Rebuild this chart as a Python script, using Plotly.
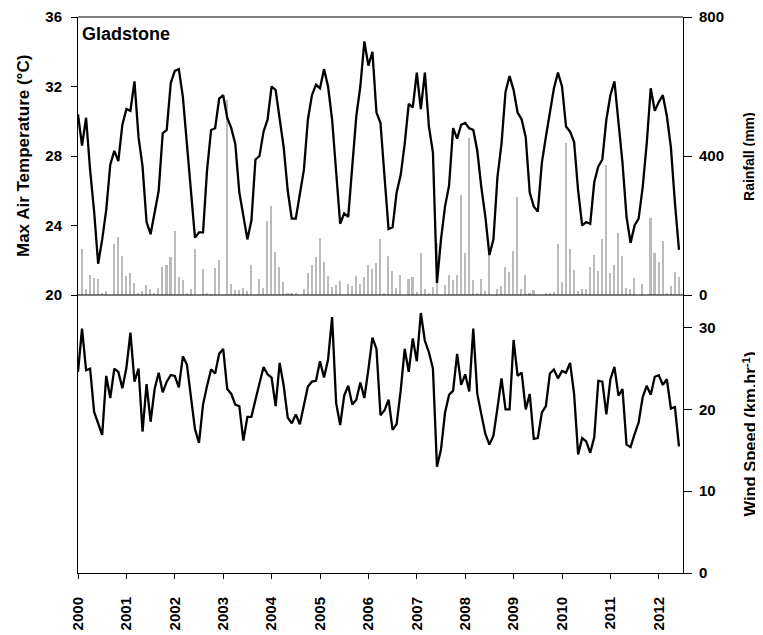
import plotly.graph_objects as go

# ---- data (monthly, Jan 2000 .. Jun 2012) ----
start_year = 2000
n_months = 150
months = [start_year + i / 12 for i in range(n_months)]

max_temp = [
    30.4, 28.6, 30.2, 27.2, 24.8, 21.8, 23.2, 24.9, 27.5, 28.3, 27.7, 29.8,
    30.7, 30.6, 32.3, 29.1, 27.4, 24.2, 23.5, 24.7, 26.0, 29.3, 29.5, 32.2,
    32.9, 33.0, 31.4, 28.7, 26.0, 23.3, 23.6, 23.6, 27.2, 29.5, 29.6, 31.3,
    31.5, 30.2, 29.6, 28.7, 25.9, 24.6, 23.2, 24.3, 27.8, 28.0, 29.4, 30.1,
    32.0, 31.8, 30.1, 28.5, 26.0, 24.4, 24.4, 25.8, 27.2, 30.1, 31.5, 32.1,
    31.9, 33.0, 32.0, 30.1, 27.0, 24.1, 24.7, 24.5, 27.4, 30.3, 32.0, 34.6,
    33.2, 34.0, 30.5, 29.9, 26.8, 23.8, 23.9, 25.9, 26.9, 28.7, 31.0, 30.8,
    32.8, 30.7, 32.8, 29.7, 28.2, 20.7, 23.2, 25.1, 26.3, 29.6, 29.0, 29.8,
    29.9, 29.6, 29.5, 28.3, 26.2, 24.5, 22.3, 23.2, 26.8, 28.7, 31.7, 32.6,
    31.8, 30.5, 30.1, 29.1, 25.9, 25.1, 24.8, 27.6, 29.1, 30.6, 31.9, 32.8,
    32.0, 29.7, 29.4, 28.8, 26.0, 24.0, 24.2, 24.1, 26.5, 27.4, 27.8, 30.1,
    31.5, 32.3, 30.1, 27.6, 24.5, 23.0, 24.0, 24.4, 26.2, 28.7, 31.9, 30.6,
    31.1, 31.5, 30.3, 28.5, 25.3, 22.6,
]

rainfall = [
    0, 132, 16, 57, 50, 45, 3, 11, 0, 146, 168, 112,
    56, 62, 35, 5, 11, 29, 16, 3, 21, 80, 86, 110,
    184, 53, 43, 7, 18, 132, 0, 75, 3, 2, 79, 102,
    0, 560, 32, 14, 14, 21, 11, 86, 0, 45, 21, 213,
    256, 123, 81, 38, 7, 5, 3, 0, 16, 62, 86, 108,
    163, 96, 55, 22, 29, 41, 0, 32, 26, 55, 32, 53,
    86, 74, 93, 160, 7, 112, 69, 19, 59, 0, 45, 51,
    9, 120, 16, 5, 22, 150, 0, 28, 59, 43, 59, 289,
    122, 452, 43, 3, 45, 11, 115, 0, 16, 26, 81, 67,
    126, 281, 16, 57, 3, 14, 0, 0, 3, 3, 10, 147,
    37, 436, 131, 72, 12, 16, 16, 80, 114, 70, 162, 374,
    62, 85, 177, 112, 21, 16, 48, 0, 31, 0, 223, 122,
    96, 156, 7, 26, 67, 53,
]

wind_speed = [
    24.6, 29.9, 24.8, 25.0, 19.7, 18.4, 16.9, 24.1, 21.4, 25.0, 24.6, 22.6,
    25.1, 29.4, 23.4, 25.0, 17.3, 23.1, 18.5, 22.5, 24.5, 22.1, 23.4, 24.2,
    24.1, 22.7, 26.5, 25.5, 21.5, 17.6, 15.9, 20.6, 22.9, 24.9, 24.4, 26.8,
    27.4, 22.5, 21.9, 20.6, 20.4, 16.2, 19.1, 19.1, 21.2, 23.4, 25.2, 24.3,
    23.9, 20.4, 25.7, 22.9, 19.0, 18.3, 19.4, 18.2, 20.4, 22.8, 23.4, 23.5,
    25.9, 23.9, 26.1, 31.3, 20.8, 18.1, 21.7, 22.9, 20.6, 21.2, 23.3, 21.4,
    24.9, 28.8, 27.4, 19.3, 19.9, 21.2, 17.5, 18.2, 22.3, 27.4, 24.6, 28.7,
    25.9, 31.8, 28.4, 27.0, 25.0, 13.0, 15.1, 19.6, 21.8, 22.3, 26.8, 23.0,
    24.3, 22.2, 29.9, 21.9, 19.4, 17.0, 15.7, 16.8, 20.2, 23.8, 20.0, 20.0,
    28.5, 24.1, 24.5, 20.0, 21.9, 16.4, 16.5, 19.6, 20.4, 24.4, 24.9, 23.8,
    24.7, 24.5, 25.7, 21.9, 14.5, 16.5, 16.1, 14.7, 16.6, 23.5, 23.4, 19.4,
    23.7, 25.2, 21.7, 22.5, 15.7, 15.4, 17.0, 18.4, 21.5, 22.9, 21.8, 24.0,
    24.2, 23.0, 23.7, 20.1, 20.3, 15.5,
]

year_ticks = list(range(2000, 2013))
year_labels = [str(y) for y in year_ticks]
temp_ticks = [20, 24, 28, 32, 36]
rain_ticks = [0, 400, 800]
wind_ticks = [0, 10, 20, 30]

FONT = "Arial, Liberation Sans, sans-serif"
tickfont = dict(family=FONT, size=15, color="black", weight="bold")

fig = go.Figure()

fig.add_trace(go.Bar(
    x=months, y=rainfall, width=0.032, marker=dict(color="#bbbbbb", line=dict(width=0)),
    xaxis="x", yaxis="y", name="Rainfall",
))
fig.add_trace(go.Scatter(
    x=months, y=max_temp, mode="lines", line=dict(color="black", width=2.3),
    xaxis="x", yaxis="y2", name="Max Air Temperature",
))
fig.add_trace(go.Scatter(
    x=months, y=wind_speed, mode="lines", line=dict(color="black", width=2.3),
    xaxis="x", yaxis="y3", name="Wind Speed",
))

axis_common = dict(showgrid=False, zeroline=False, showline=True, linecolor="black",
                   linewidth=1, ticks="outside", tickcolor="black", tickwidth=1,
                   tickfont=tickfont)

# page body has an 8px margin, so the figure is sized/placed to compensate
fig.update_layout(
    width=755, height=627,
    margin=dict(l=70, r=80, t=9, b=62, autoexpand=False),
    paper_bgcolor="white", plot_bgcolor="white",
    showlegend=False, bargap=0,
    xaxis=dict(domain=[0, 1], range=[2000, 2012.5], anchor="y3",
               tickvals=year_ticks, ticktext=year_labels, tickangle=-90,
               ticklen=5, ticklabelstandoff=12, **axis_common),
    yaxis=dict(domain=[0.5, 1], range=[0, 800], side="right", anchor="x",
               tickvals=rain_ticks, ticklen=8, ticklabelstandoff=4, **axis_common),
    yaxis2=dict(overlaying="y", range=[20, 36], side="left", anchor="x",
                tickvals=temp_ticks, ticklen=6, ticklabelstandoff=6, **axis_common),
    yaxis3=dict(domain=[0, 0.5], range=[0, 34], side="right", anchor="x",
                tickvals=wind_ticks, ticklen=8, ticklabelstandoff=4, mirror=True,
                **axis_common),
    shapes=[
        dict(type="line", xref="paper", yref="paper", x0=0, x1=1, y0=1, y1=1,
             line=dict(color="black", width=1)),
        dict(type="line", xref="paper", yref="paper", x0=0, x1=1, y0=0.5, y1=0.5,
             line=dict(color="black", width=1)),
    ],
    annotations=[
        dict(text="Max Air Temperature (°C)", xref="paper", yref="paper",
             x=-0.0909, y=0.75, textangle=-90, showarrow=False,
             xanchor="center", yanchor="middle",
             font=dict(family=FONT, size=17, color="black", weight="bold")),
        dict(text="Rainfall (mm)", xref="paper", yref="paper",
             x=1.109, y=0.75, textangle=-90, showarrow=False,
             xanchor="center", yanchor="middle",
             font=dict(family=FONT, size=14, color="black", weight="bold")),
        dict(text="Wind Speed (km.hr<sup>-1</sup>)", xref="paper", yref="paper",
             x=1.11, y=0.25, textangle=-90, showarrow=False,
             xanchor="center", yanchor="middle",
             font=dict(family=FONT, size=16.5, color="black", weight="bold")),
        dict(text="Gladstone", xref="paper", yref="paper",
             x=0.004, y=0.9694, showarrow=False,
             xanchor="left", yanchor="middle",
             font=dict(family=FONT, size=18, color="black", weight="bold")),
    ],
)

fig.write_html("out.html")
